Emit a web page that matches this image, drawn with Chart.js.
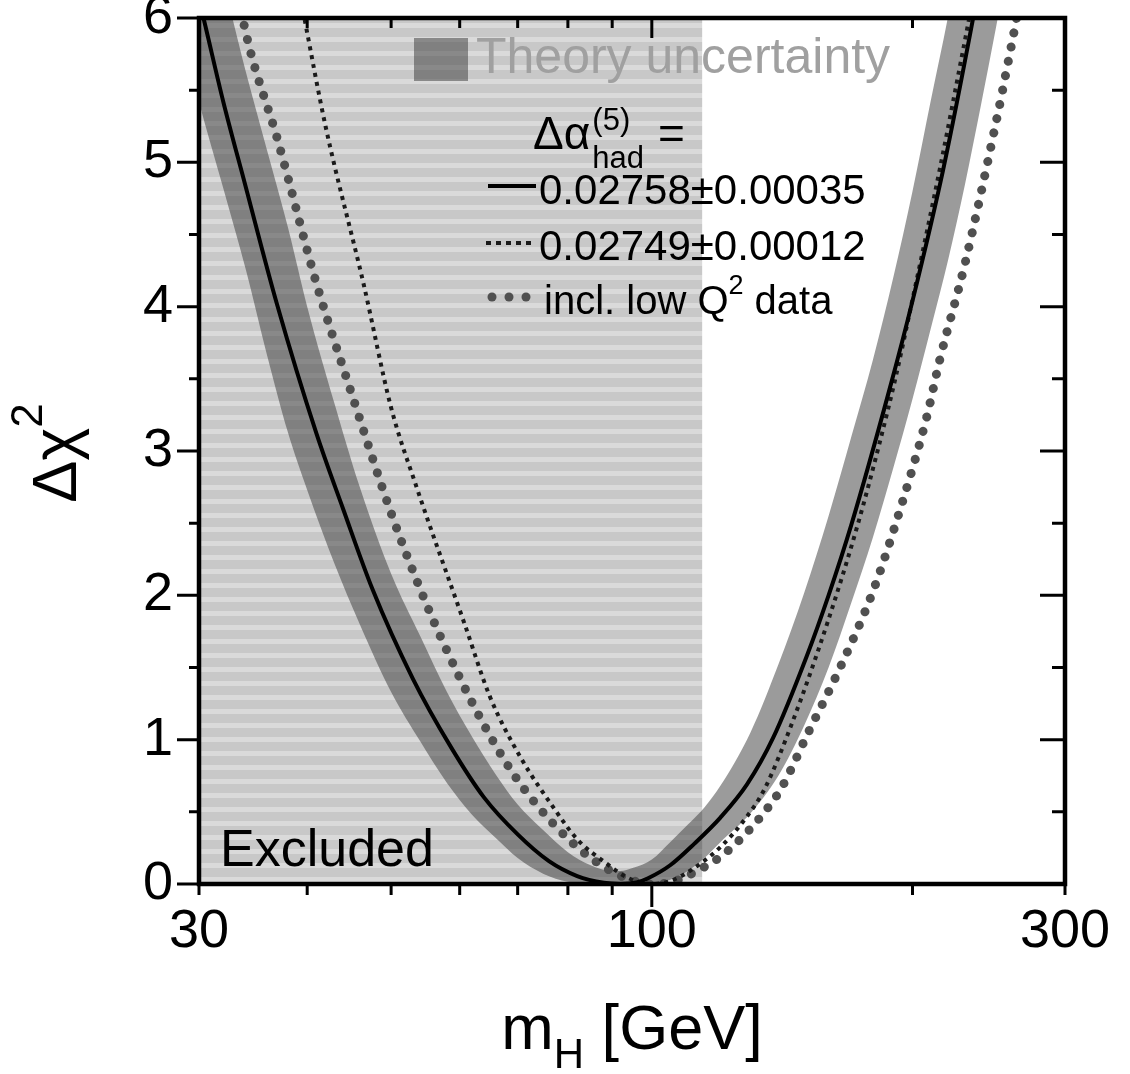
<!DOCTYPE html>
<html>
<head>
<meta charset="utf-8">
<script src="https://cdn.jsdelivr.net/npm/chart.js@4.4.0/dist/chart.umd.min.js"></script>
<style>
  html, body { margin: 0; padding: 0; background: #fff; }
  #wrap { width: 1130px; height: 1074px; position: relative; }
</style>
</head>
<body>
<div id="wrap"><canvas id="higgsChart"></canvas></div>
<script>
// m_H [GeV] and delta chi^2
const solidMass = [29, 30.5, 32, 33.9, 36.9, 41, 44, 47.6, 53, 58.6, 64, 70.1, 76, 82, 88, 92, 96, 99, 105, 112, 120, 128.8, 138, 151, 160, 170, 188, 200, 217, 235, 245];
const solidChi2 = [6.5, 5.95, 5.42, 4.85, 4.02, 3.12, 2.6, 2.04, 1.42, 0.95, 0.6, 0.34, 0.16, 0.055, 0.008, 0.0, 0.01, 0.04, 0.13, 0.28, 0.46, 0.69, 1.01, 1.58, 2.0, 2.49, 3.42, 4.04, 4.95, 6.0, 6.6];

const dashedMass = [38, 39.7, 42, 46.5, 50, 53.5, 60.8, 65, 70.5, 77.4, 82, 88.5, 94, 100, 105, 110.6, 120.2, 128.5, 135, 145.3, 159.5, 172.9, 183.5, 191.4, 200, 215, 230, 236];
const dashedChi2 = [6.6, 6.0, 5.25, 4.15, 3.3, 2.75, 1.8, 1.3, 0.88, 0.51, 0.31, 0.145, 0.04, 0.0, 0.02, 0.09, 0.26, 0.46, 0.66, 1.12, 1.81, 2.49, 3.07, 3.52, 4.05, 4.95, 5.85, 6.2];

const dottedMass = [32, 33, 34, 37, 41, 45, 50, 55, 60, 65, 70, 77.3, 84.6, 93.4, 100, 105, 112.7, 120.7, 128.2, 135.4, 141.3, 151.6, 165, 180.1, 194.1, 207.8, 215, 230, 250, 258, 263, 272];
const dottedChi2 = [6.85, 6.3, 5.89, 5.15, 4.16, 3.4, 2.57, 1.93, 1.43, 1.03, 0.72, 0.405, 0.19, 0.04, 0.0, 0.01, 0.09, 0.2, 0.345, 0.51, 0.67, 1.05, 1.5, 2.03, 2.62, 3.24, 3.63, 4.3, 5.29, 5.7, 5.96, 6.5];

// theory uncertainty band: upper and lower edge
const bandMass = [28, 30, 32, 34, 36, 38, 40, 43, 46, 50, 54, 58, 62, 66, 70, 75, 80, 85, 90, 92, 95, 100, 105, 110, 115, 120, 130, 140, 150, 160, 170, 180, 190, 200, 210, 220, 230, 240, 250, 260];
const bandUpper = [7.6, 6.85, 6.25, 5.62, 5.07, 4.55, 4.0, 3.33, 2.75, 2.15, 1.72, 1.33, 1.02, 0.76, 0.55, 0.37, 0.22, 0.13, 0.09, 0.09, 0.11, 0.17, 0.29, 0.41, 0.53, 0.68, 1.05, 1.52, 2.02, 2.55, 3.1, 3.63, 4.2, 4.8, 5.43, 6.02, 6.65, 7.3, 8.0, 8.7];
const bandLower = [6.15, 5.42, 4.82, 4.25, 3.65, 3.13, 2.73, 2.22, 1.8, 1.33, 0.99, 0.7, 0.48, 0.32, 0.18, 0.07, 0.015, 0, 0, 0, 0, 0.003, 0.03, 0.09, 0.18, 0.29, 0.49, 0.75, 1.1, 1.5, 1.95, 2.4, 2.88, 3.36, 3.85, 4.33, 4.85, 5.4, 5.95, 6.5];

// excluded region (direct search limit)
const excludedRange = [30, 114.4];

// axes
const xMin = 30, xMax = 300;
const yMin = 0, yMax = 6;
const xLabelTicks = [30, 100, 300];
const xMinorTicks = [40, 50, 60, 70, 80, 90, 200];
const yMajorTicks = [0, 1, 2, 3, 4, 5, 6];
const yMinorTicks = [0.5, 1.5, 2.5, 3.5, 4.5, 5.5];

const FONT = "'Liberation Sans', Arial, Helvetica, sans-serif";
const bandColor = 'rgba(55, 55, 55, 0.5)';

function toPoints(xs, ys) {
    return xs.map((x, i) => ({ x: x, y: ys[i] }));
}

function stripePattern() {
    const c = document.createElement('canvas');
    c.width = 8;
    c.height = 14;
    const g = c.getContext('2d');
    g.fillStyle = '#c8c8c8';
    g.fillRect(0, 0, 8, 14);
    g.fillStyle = '#dadada';
    g.fillRect(0, 9, 8, 5);
    return g.createPattern(c, 'repeat');
}

function drawRuns(ctx, x, y, runs) {
    runs.forEach(r => {
        ctx.font = r.size + 'px ' + FONT;
        ctx.fillStyle = r.color || '#000';
        ctx.fillText(r.text, x, y + (r.dy || 0));
        x += ctx.measureText(r.text).width;
    });
    return x;
}

function runsWidth(ctx, runs) {
    let w = 0;
    runs.forEach(r => {
        ctx.font = r.size + 'px ' + FONT;
        w += ctx.measureText(r.text).width;
    });
    return w;
}

// legend, labels and titles
const annotations = {
    id: 'annotations',
    afterDatasetsDraw(chart) {
        const { ctx, chartArea: a } = chart;
        const L = a.left, T = a.top;
        ctx.save();
        ctx.textBaseline = 'alphabetic';
        ctx.textAlign = 'left';

        // Theory uncertainty
        ctx.fillStyle = bandColor;
        ctx.fillRect(L + 215, T + 20, 54, 43);
        drawRuns(ctx, L + 277, T + 55, [{ text: 'Theory uncertainty', size: 50, color: '#a0a0a0' }]);

        // delta alpha_had^(5) =
        let x0 = drawRuns(ctx, L + 334, T + 131, [{ text: '\u0394\u03b1', size: 46 }]);
        ctx.font = '31px ' + FONT;
        ctx.fillText('(5)', x0 + 2, T + 112);
        ctx.fillText('had', x0 + 2, T + 150);
        const w = Math.max(ctx.measureText('(5)').width, ctx.measureText('had').width);
        drawRuns(ctx, x0 + w + 16, T + 131, [{ text: '=', size: 46 }]);

        // solid sample
        ctx.strokeStyle = '#000';
        ctx.lineWidth = 4;
        ctx.beginPath();
        ctx.moveTo(L + 289, T + 168);
        ctx.lineTo(L + 337, T + 168);
        ctx.stroke();
        drawRuns(ctx, L + 340, T + 186, [{ text: '0.02758\u00b10.00035', size: 42 }]);

        // dashed sample
        ctx.setLineDash([5, 5]);
        ctx.strokeStyle = '#1a1a1a';
        ctx.beginPath();
        ctx.moveTo(L + 287, T + 225);
        ctx.lineTo(L + 337, T + 225);
        ctx.stroke();
        ctx.setLineDash([]);
        drawRuns(ctx, L + 340, T + 242, [{ text: '0.02749\u00b10.00012', size: 42 }]);

        // dotted sample
        ctx.fillStyle = '#505050';
        [293, 310, 327].forEach(dx => {
            ctx.beginPath();
            ctx.arc(L + dx, T + 279, 4.5, 0, Math.PI * 2);
            ctx.fill();
        });
        drawRuns(ctx, L + 345, T + 296, [
            { text: 'incl. low Q', size: 40 },
            { text: '2', size: 27, dy: -20 },
            { text: ' data', size: 40 }
        ]);

        // Excluded
        drawRuns(ctx, L + 21, a.bottom - 18, [{ text: 'Excluded', size: 52 }]);

        // x title
        const xRuns = [
            { text: 'm', size: 63 },
            { text: 'H', size: 42, dy: 19 },
            { text: ' [GeV]', size: 63 }
        ];
        const xw = runsWidth(ctx, xRuns);
        drawRuns(ctx, (a.left + a.right) / 2 - xw / 2, 1049, xRuns);

        // y title
        const yRuns = [
            { text: '\u0394\u03c7', size: 63 },
            { text: '2', size: 44, dy: -34 }
        ];
        const yw = runsWidth(ctx, yRuns);
        ctx.translate(76, (a.top + a.bottom) / 2 + 2);
        ctx.rotate(-Math.PI / 2);
        drawRuns(ctx, -yw / 2, 0, yRuns);
        ctx.restore();
    }
};

// frame and tick marks
const frame = {
    id: 'frame',
    afterDraw(chart) {
        const { ctx, chartArea: a, scales } = chart;
        const xs = scales.x, ys = scales.y;
        ctx.save();
        ctx.strokeStyle = '#000';
        ctx.lineWidth = 3;
        ctx.beginPath();
        xLabelTicks.concat(xMinorTicks).forEach(v => {
            const px = xs.getPixelForValue(v);
            const len = v === 100 ? 23 : 11;
            ctx.moveTo(px, a.bottom);
            ctx.lineTo(px, a.bottom + len);
            ctx.moveTo(px, a.top);
            ctx.lineTo(px, a.top + (v === 100 ? 20 : 10));
        });
        yMajorTicks.forEach(v => {
            const py = ys.getPixelForValue(v);
            ctx.moveTo(a.left, py);
            ctx.lineTo(a.left - 22, py);
            ctx.moveTo(a.right, py);
            ctx.lineTo(a.right - 25, py);
        });
        yMinorTicks.forEach(v => {
            const py = ys.getPixelForValue(v);
            ctx.moveTo(a.left, py);
            ctx.lineTo(a.left - 10, py);
            ctx.moveTo(a.right, py);
            ctx.lineTo(a.right - 13, py);
        });
        ctx.stroke();
        ctx.lineWidth = 4.5;
        ctx.strokeRect(a.left, a.top, a.right - a.left, a.bottom - a.top);
        ctx.restore();
    }
};

function initializeHiggsChart() {
    const ctx = document.getElementById('higgsChart').getContext('2d');

    const data = {
        datasets: [
            {
                label: '0.02758\u00b10.00035',
                data: toPoints(solidMass, solidChi2),
                borderColor: '#000',
                borderWidth: 4,
                cubicInterpolationMode: 'monotone',
                pointRadius: 0,
                fill: false,
                clip: 0,
                order: 0
            },
            {
                label: '0.02749\u00b10.00012',
                data: toPoints(dashedMass, dashedChi2),
                borderColor: '#1a1a1a',
                borderWidth: 4,
                borderDash: [4, 5],
                cubicInterpolationMode: 'monotone',
                pointRadius: 0,
                fill: false,
                clip: 0,
                order: 1
            },
            {
                label: 'incl. low Q2 data',
                data: toPoints(dottedMass, dottedChi2),
                borderColor: '#505050',
                borderWidth: 9,
                borderDash: [0.1, 14.5],
                borderCapStyle: 'round',
                cubicInterpolationMode: 'monotone',
                pointRadius: 0,
                fill: false,
                clip: 0,
                order: 2
            },
            {
                label: 'band upper',
                data: toPoints(bandMass, bandUpper),
                borderWidth: 0,
                borderColor: 'rgba(0,0,0,0)',
                backgroundColor: bandColor,
                cubicInterpolationMode: 'monotone',
                pointRadius: 0,
                fill: { target: 4 },
                clip: 0,
                order: 3
            },
            {
                label: 'band lower',
                data: toPoints(bandMass, bandLower),
                borderWidth: 0,
                borderColor: 'rgba(0,0,0,0)',
                cubicInterpolationMode: 'monotone',
                pointRadius: 0,
                fill: false,
                clip: 0,
                order: 4
            },
            {
                label: 'Excluded',
                data: [{ x: excludedRange[0], y: yMax }, { x: excludedRange[1], y: yMax }],
                borderWidth: 0,
                borderColor: 'rgba(0,0,0,0)',
                backgroundColor: stripePattern(),
                pointRadius: 0,
                fill: 'start',
                clip: 0,
                order: 5
            }
        ]
    };

    const config = {
        type: 'line',
        data: data,
        options: {
            responsive: true,
            maintainAspectRatio: false,
            animation: false,
            layout: {
                padding: { left: 0, top: 18, right: 65, bottom: 0 }
            },
            plugins: {
                legend: { display: false },
                tooltip: { enabled: false }
            },
            scales: {
                x: {
                    type: 'logarithmic',
                    min: xMin,
                    max: xMax,
                    grid: { display: false, drawTicks: false },
                    border: { display: false },
                    afterBuildTicks: scale => {
                        scale.ticks = xLabelTicks.map(v => ({ value: v }));
                    },
                    afterFit: scale => {
                        scale.height = 190;
                        scale.paddingLeft = 0;
                        scale.paddingRight = 0;
                    },
                    ticks: {
                        autoSkip: false,
                        maxRotation: 0,
                        padding: 16,
                        color: '#000',
                        font: { family: FONT, size: 54 },
                        callback: value => String(value)
                    }
                },
                y: {
                    min: yMin,
                    max: yMax,
                    grid: { display: false, drawTicks: false },
                    border: { display: false },
                    afterFit: scale => {
                        scale.width = 199;
                        scale.paddingTop = 0;
                        scale.paddingBottom = 0;
                    },
                    ticks: {
                        stepSize: 1,
                        padding: 26,
                        color: '#000',
                        font: { family: FONT, size: 54 }
                    }
                }
            }
        },
        plugins: [annotations, frame]
    };

    new Chart(ctx, config);
}

document.addEventListener('DOMContentLoaded', initializeHiggsChart);
</script>
</body>
</html>
